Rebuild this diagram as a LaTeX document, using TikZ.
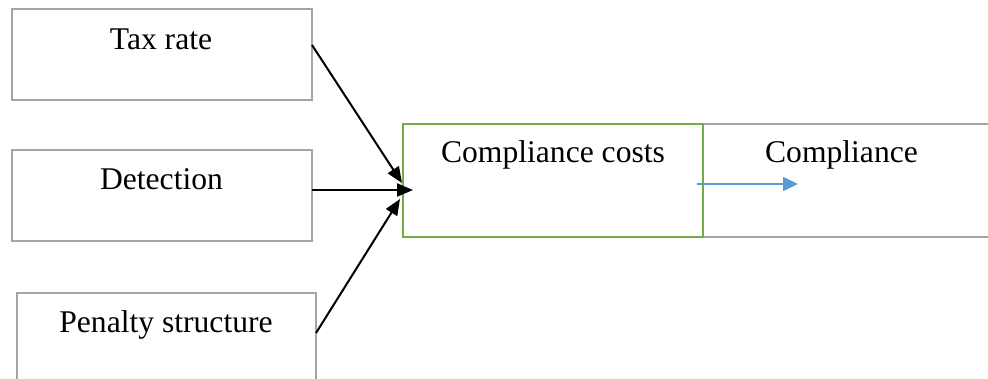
\documentclass[tikz,border=0pt]{standalone}
\usepackage{fontspec}
\setmainfont{Liberation Serif}
\usetikzlibrary{arrows.meta}
\definecolor{boxgray}{HTML}{A5A5A5}
\definecolor{boxgreen}{HTML}{70AD47}
\definecolor{arrowblue}{HTML}{5B9BD5}
\begin{document}
\begin{tikzpicture}[x=1pt,y=-1pt,
  box/.style={draw=boxgray,line width=2pt,fill=white,inner sep=0pt,outer sep=0pt},
  greenbox/.style={draw=boxgreen,line width=2pt,inner sep=0pt,outer sep=0pt},
  lbl/.style={font=\fontsize{31.6}{38}\selectfont,inner sep=0pt,anchor=base},
  blk/.style={draw=black,line width=2pt,-{Triangle[length=16pt,width=13pt]}},
  blu/.style={draw=arrowblue,line width=1.6pt,-{Triangle[length=15pt,width=14pt]}}]
\useasboundingbox (0,0) rectangle (988,379);
\clip (0,0) rectangle (988,379);
\fill[white] (0,0) rectangle (988,379);
% left boxes
\node[box,minimum width=300pt,minimum height=91pt] (taxbox) at (162,54.5) {};
\node[box,minimum width=300pt,minimum height=91pt] (detbox) at (162,195.5) {};
\node[box,minimum width=299pt,minimum height=91pt] (penbox) at (166.5,338.5) {};
\node[lbl] (taxtxt) at (161,50) {Tax rate};
\node[lbl] (dettxt) at (161.5,190) {Detection};
\node[lbl] (pentxt) at (166,333) {Penalty structure};
% right boxes
\node[box,minimum width=300pt,minimum height=113pt] (compbox) at (853,180.5) {};
\node[greenbox,minimum width=300pt,minimum height=113pt] (ccbox) at (553,180.5) {};
\node[lbl] (cctxt) at (553,163) {Compliance costs};
\node[lbl] (comptxt) at (841.5,163) {Compliance};
% connector end points
\coordinate (t1) at (312,45);
\coordinate (t2) at (312,190);
\coordinate (t3) at (316,333);
\coordinate (h1) at (402,183);
\coordinate (h2) at (413,190);
\coordinate (h3) at (400,199);
\coordinate (b1) at (697,184);
\coordinate (b2) at (798,184);
\draw[blk] (t1) -- (h1);
\draw[blk] (t2) -- (h2);
\draw[blk] (t3) -- (h3);
\draw[blu] (b1) -- (b2);
\end{tikzpicture}
\end{document}
